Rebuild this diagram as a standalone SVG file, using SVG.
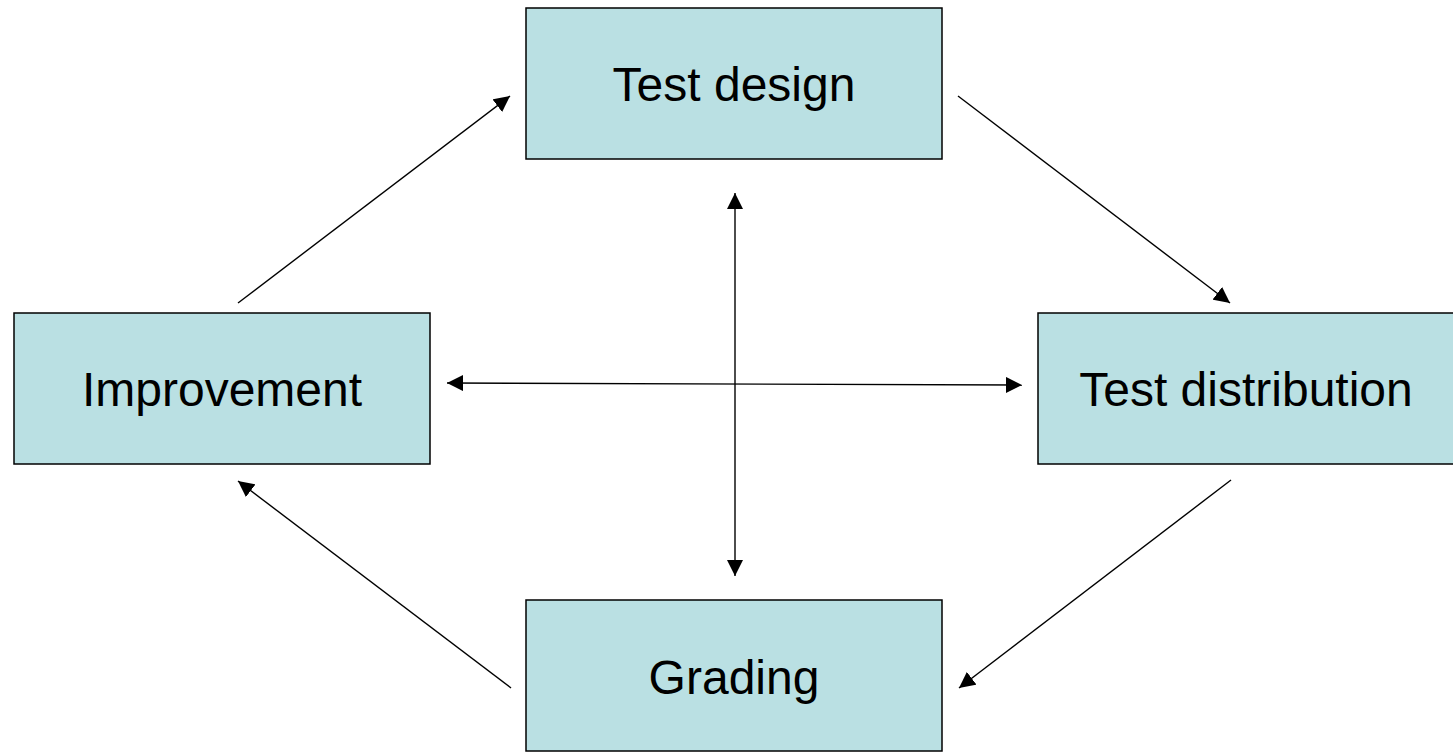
<svg xmlns="http://www.w3.org/2000/svg" width="1453" height="752" viewBox="0 0 1453 752">
<style>
.box{fill:#BAE0E3;stroke:#000;stroke-width:1.5}
.lbl{font-family:"Liberation Sans",Arial,sans-serif;font-size:48px;fill:#000;text-anchor:middle}
.con{stroke:#000;stroke-width:1.4;fill:none}
</style>
<defs>
<marker id="ah" viewBox="0 0 16 16" refX="16" refY="8" markerWidth="16" markerHeight="16" markerUnits="userSpaceOnUse" orient="auto-start-reverse">
<path d="M0,0 L16,8 L0,16 Z" fill="#000"/>
</marker>
</defs>
<rect width="1453" height="752" fill="#fff"/>
<g id="test-design"><rect class="box" x="526" y="8" width="416" height="151"/><text class="lbl" x="734" y="101">Test design</text></g>
<g id="improvement"><rect class="box" x="14" y="313" width="416" height="151"/><text class="lbl" x="222" y="406">Improvement</text></g>
<g id="test-distribution"><rect class="box" x="1038" y="313" width="416" height="151"/><text class="lbl" x="1246" y="406">Test distribution</text></g>
<g id="grading"><rect class="box" x="526" y="600" width="416" height="151"/><text class="lbl" x="734" y="694">Grading</text></g>
<g id="connectors">
<line class="con" x1="238" y1="303" x2="510" y2="96" marker-end="url(#ah)"/>
<line class="con" x1="958" y1="96" x2="1230" y2="303" marker-end="url(#ah)"/>
<line class="con" x1="1231" y1="480" x2="959" y2="688" marker-end="url(#ah)"/>
<line class="con" x1="511" y1="688" x2="238" y2="481" marker-end="url(#ah)"/>
<line class="con" x1="447" y1="383" x2="1022" y2="385" marker-start="url(#ah)" marker-end="url(#ah)"/>
<line class="con" x1="735" y1="193" x2="735" y2="576" marker-start="url(#ah)" marker-end="url(#ah)"/>
</g>
</svg>
